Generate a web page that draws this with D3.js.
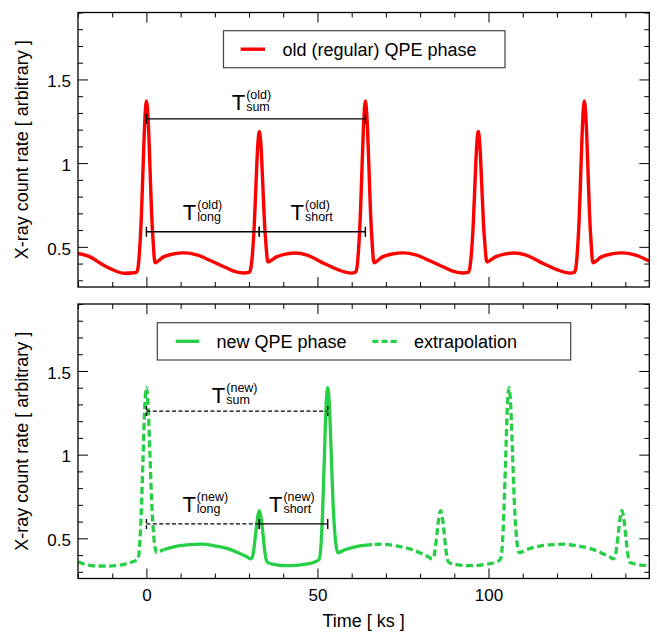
<!DOCTYPE html>
<html>
<head>
<meta charset="utf-8">
<script src="https://cdn.jsdelivr.net/npm/d3@7"></script>
<style>
  body { margin: 0; background: #fff; }
  svg { display: block; }
  text { font-family: "Liberation Sans", Arial, Helvetica, sans-serif; fill: #000; }
</style>
</head>
<body>
<svg id="chart" width="657" height="633"></svg>
<script>
// ---- axis ranges and ticks ----
const timeDomain = [-20, 147];
const rateDomain = [0.26, 1.9];
const xMajorTicks = [0, 50, 100];
const xTickLabels = ["0", "50", "100"];
const xMinorTicks = [-20, -10, 10, 20, 30, 40, 60, 70, 80, 90, 110, 120, 130, 140];
const yMajorTicks = [0.5, 1, 1.5];
const yTickLabels = ["0.5", "1", "1.5"];
const yMinorTicks = [0.3, 0.4, 0.6, 0.7, 0.8, 0.9, 1.1, 1.2, 1.3, 1.4, 1.6, 1.7, 1.8, 1.9];

// ---- old (regular) QPE phase: [time ks, rate] ----
const oldRate = [
  [-20,0.46],[-16.5,0.44],[-12.5,0.39],[-9.5,0.36],[-6.5,0.342],[-3.5,0.345],
  [-3,0.347],[-2.5,0.37],[-2,0.48],[-1.5,0.67],[-1,0.96],[-0.5,1.24],[0,1.372],[0.5,1.26],[1,1.0],[1.5,0.71],[2,0.52],[2.5,0.405],
  [5,0.44],[8,0.458],[11,0.464],[15,0.45],[19,0.415],[23,0.378],[26,0.352],[28.5,0.344],[30,0.347],
  [30.5,0.37],[31,0.46],[31.5,0.62],[32,0.86],[32.5,1.09],[33,1.189],[33.5,1.10],[34,0.88],[34.5,0.65],[35,0.50],[35.5,0.41],
  [38,0.44],[41,0.458],[43.5,0.463],[47,0.45],[51,0.41],[55,0.372],[58,0.35],[60,0.343],[61,0.347],
  [61.5,0.37],[62,0.48],[62.5,0.67],[63,0.96],[63.5,1.24],[64,1.372],[64.5,1.26],[65,1.0],[65.5,0.71],[66,0.52],[66.5,0.405],
  [69,0.44],[72,0.458],[75,0.464],[79,0.45],[83,0.415],[87,0.378],[90,0.352],[92.5,0.344],[94,0.347],
  [94.5,0.37],[95,0.46],[95.5,0.62],[96,0.86],[96.5,1.09],[97,1.189],[97.5,1.10],[98,0.88],[98.5,0.65],[99,0.50],[99.5,0.41],
  [102,0.44],[105,0.458],[107.5,0.463],[111,0.45],[115,0.41],[119,0.372],[122,0.35],[124,0.343],[125,0.347],
  [125.5,0.37],[126,0.48],[126.5,0.67],[127,0.96],[127.5,1.24],[128,1.372],[128.5,1.26],[129,1.0],[129.5,0.71],[130,0.52],[130.5,0.405],
  [133,0.44],[136,0.458],[139,0.464],[143,0.45],[147,0.415]
];

// ---- new QPE phase with its extrapolation: [time ks, rate] ----
const newRate = [
  [-20,0.36],[-17.5,0.342],[-14.5,0.335],[-12,0.334],[-9,0.337],[-6,0.347],[-4,0.36],[-2.5,0.375],
  [-2,0.45],[-1.5,0.66],[-1,0.97],[-0.5,1.28],[0,1.40],[0.5,1.29],[1,1.02],[1.5,0.74],[2,0.55],[2.5,0.45],[3,0.414],
  [5,0.432],[9,0.454],[13,0.463],[16,0.465],[20,0.455],[24,0.437],[27,0.413],[29.5,0.388],[30.5,0.377],
  [31,0.39],[31.5,0.45],[32,0.54],[32.5,0.625],[33,0.666],[33.5,0.625],[34,0.54],[34.5,0.44],[35,0.375],[35.5,0.355],
  [38,0.342],[41,0.337],[44,0.339],[47,0.347],[49,0.357],[50.5,0.375],
  [51,0.45],[51.5,0.66],[52,0.97],[52.5,1.28],[53,1.40],[53.5,1.29],[54,1.02],[54.5,0.74],[55,0.55],[55.5,0.45],[56,0.414],
  [58,0.432],[62,0.454],[66,0.463],[69,0.465],[73,0.455],[77,0.437],[80,0.413],[82.5,0.388],[83.5,0.377],
  [84,0.39],[84.5,0.45],[85,0.54],[85.5,0.625],[86,0.666],[86.5,0.625],[87,0.54],[87.5,0.44],[88,0.375],[88.5,0.355],
  [91,0.342],[94,0.337],[97,0.339],[100,0.347],[102,0.357],[103.5,0.375],
  [104,0.45],[104.5,0.66],[105,0.97],[105.5,1.28],[106,1.40],[106.5,1.29],[107,1.02],[107.5,0.74],[108,0.55],[108.5,0.45],[109,0.414],
  [111,0.432],[115,0.454],[119,0.463],[122,0.465],[126,0.455],[130,0.437],[133,0.413],[135.5,0.388],[136.5,0.377],
  [137,0.39],[137.5,0.45],[138,0.54],[138.5,0.625],[139,0.666],[139.5,0.625],[140,0.54],[140.5,0.44],[141,0.375],[141.5,0.355],
  [144,0.342],[147,0.337]
];
// time span actually observed in the new phase (the rest is extrapolated)
const newObserved = [5, 66];

// ---- interval annotations ----
const oldIntervals = [
  { from: 0,  to: 64, level: 1.265, labelAt: 30.7, labelLevel: 1.318, sub: "sum",   sup: "(old)", dashed: false },
  { from: 0,  to: 33, level: 0.59,  labelAt: 16.4, labelLevel: 0.66,  sub: "long",  sup: "(old)", dashed: false },
  { from: 33, to: 64, level: 0.59,  labelAt: 48.3, labelLevel: 0.66,  sub: "short", sup: "(old)", dashed: false }
];
const newIntervals = [
  { from: 0,  to: 53, level: 1.26,  labelAt: 25.8, labelLevel: 1.31,  sub: "sum",   sup: "(new)", dashed: true },
  { from: 0,  to: 33, level: 0.586, labelAt: 17.2, labelLevel: 0.66,  sub: "long",  sup: "(new)", dashed: true },
  { from: 33, to: 53, level: 0.586, labelAt: 42.5, labelLevel: 0.66,  sub: "short", sup: "(new)", dashed: false }
];

const RED = "#ff0000";
const GREEN = "#26cf46";

const svg = d3.select("#chart");
const plotLeft = 78, plotRight = 649.3, plotH = 274.5;
const panelTops = [12.5, 304];

const x = d3.scaleLinear().domain(timeDomain).range([plotLeft, plotRight]);

function makeY(top) {
  return d3.scaleLinear().domain(rateDomain).range([top + plotH, top]);
}

function styleAxis(g) {
  g.select(".domain").remove();
  g.selectAll(".tick line").attr("stroke", "#000").attr("stroke-width", 1);
  g.selectAll(".tick text").attr("font-size", 17).attr("fill", "#000")
    .style("font-family", '"Liberation Sans", Arial, Helvetica, sans-serif');
}

function drawFrame(top, y, xLabels) {
  const bottom = top + plotH;
  const g = svg.append("g");
  // bottom & top time ticks, pointing inward
  g.append("g").attr("transform", `translate(0,${bottom})`)
    .call(d3.axisBottom(x).tickValues(xMajorTicks).tickSize(-10).tickPadding(10)
      .tickFormat((d, i) => xLabels ? xTickLabels[i] : ""))
    .call(styleAxis);
  g.append("g").attr("transform", `translate(0,${bottom})`)
    .call(d3.axisBottom(x).tickValues(xMinorTicks).tickSize(-5).tickFormat(""))
    .call(styleAxis);
  g.append("g").attr("transform", `translate(0,${top})`)
    .call(d3.axisTop(x).tickValues(xMajorTicks).tickSize(-10).tickFormat(""))
    .call(styleAxis);
  g.append("g").attr("transform", `translate(0,${top})`)
    .call(d3.axisTop(x).tickValues(xMinorTicks).tickSize(-5).tickFormat(""))
    .call(styleAxis);
  // left & right rate ticks
  g.append("g").attr("transform", `translate(${plotLeft},0)`)
    .call(d3.axisLeft(y).tickValues(yMajorTicks).tickSize(-10).tickPadding(7)
      .tickFormat((d, i) => yTickLabels[i]))
    .call(styleAxis)
    .call(a => a.selectAll(".tick text").attr("dy", "0.43em"));
  g.append("g").attr("transform", `translate(${plotLeft},0)`)
    .call(d3.axisLeft(y).tickValues(yMinorTicks).tickSize(-5).tickFormat(""))
    .call(styleAxis);
  g.append("g").attr("transform", `translate(${plotRight},0)`)
    .call(d3.axisRight(y).tickValues(yMajorTicks).tickSize(-10).tickFormat(""))
    .call(styleAxis);
  g.append("g").attr("transform", `translate(${plotRight},0)`)
    .call(d3.axisRight(y).tickValues(yMinorTicks).tickSize(-5).tickFormat(""))
    .call(styleAxis);

  g.append("rect")
    .attr("x", plotLeft).attr("y", top)
    .attr("width", plotRight - plotLeft).attr("height", plotH)
    .attr("fill", "none").attr("stroke", "#000").attr("stroke-width", 1.3);

  // rotated rate title
  svg.append("text")
    .attr("transform", `translate(28,${top + plotH / 2}) rotate(-90)`)
    .attr("text-anchor", "middle").attr("font-size", 18)
    .text("X-ray count rate [ arbitrary ]");
}

function addClip(id, rects) {
  const cp = svg.append("defs").append("clipPath").attr("id", id);
  rects.forEach(r => cp.append("rect").attr("x", r[0]).attr("y", r[1]).attr("width", r[2]).attr("height", r[3]));
  return `url(#${id})`;
}

function drawIntervals(list, y) {
  const g = svg.append("g");
  list.forEach(iv => {
    const yy = y(iv.level);
    const dash = iv.dashed ? "4,2.4" : null;
    g.append("line")
      .attr("x1", x(iv.from)).attr("x2", x(iv.to)).attr("y1", yy).attr("y2", yy)
      .attr("stroke", "#000").attr("stroke-width", 1.3).attr("stroke-dasharray", dash);
    [iv.from, iv.to].forEach(t => {
      g.append("line")
        .attr("x1", x(t)).attr("x2", x(t)).attr("y1", yy - 5).attr("y2", yy + 5)
        .attr("stroke", "#000").attr("stroke-width", 1.4).attr("stroke-dasharray", dash);
    });
    // T with stacked superscript / subscript
    const base = y(iv.labelLevel);
    const lt = g.append("text").attr("font-size", 22).attr("y", base).text("T");
    const sp = g.append("text").attr("font-size", 12.5).attr("y", base - 11).text(iv.sup);
    const sb = g.append("text").attr("font-size", 12.5).attr("y", base + 1).text(iv.sub);
    const wT = lt.node().getComputedTextLength();
    const wS = Math.max(sp.node().getComputedTextLength(), sb.node().getComputedTextLength());
    const x0 = x(iv.labelAt) - (wT + 1 + wS) / 2;
    lt.attr("x", x0);
    sp.attr("x", x0 + wT + 1);
    sb.attr("x", x0 + wT + 1);
  });
}

const line = (y) => d3.line().x(d => x(d[0])).y(d => y(d[1])).curve(d3.curveMonotoneX);

// ---------- upper panel: old phase ----------
{
  const top = panelTops[0];
  const y = makeY(top);
  const clip = addClip("clipOld", [[plotLeft, top, plotRight - plotLeft, plotH]]);
  svg.append("path").datum(oldRate)
    .attr("d", line(y)).attr("fill", "none")
    .attr("stroke", RED).attr("stroke-width", 3.4).attr("stroke-linejoin", "round")
    .attr("clip-path", clip);
  drawIntervals(oldIntervals, y);
  drawFrame(top, y, false);

  // legend
  const lg = svg.append("g");
  lg.append("rect").attr("x", 223.5).attr("y", 30.7).attr("width", 281.5).attr("height", 37)
    .attr("fill", "#fff").attr("stroke", "#444").attr("stroke-width", 1.2);
  lg.append("line").attr("x1", 240.7).attr("x2", 265).attr("y1", 49.2).attr("y2", 49.2)
    .attr("stroke", RED).attr("stroke-width", 3.4);
  lg.append("text").attr("x", 282.5).attr("y", 55.5).attr("font-size", 18)
    .text("old (regular) QPE phase");
}

// ---------- lower panel: new phase ----------
{
  const top = panelTops[1];
  const y = makeY(top);
  const xa = x(newObserved[0]), xb = x(newObserved[1]);
  const clipExtra = addClip("clipExtra", [
    [plotLeft, top, xa - plotLeft, plotH],
    [xb, top, plotRight - xb, plotH]
  ]);
  const clipObs = addClip("clipObs", [[xa, top, xb - xa, plotH]]);
  svg.append("path").datum(newRate)
    .attr("d", line(y)).attr("fill", "none")
    .attr("stroke", GREEN).attr("stroke-width", 3.3).attr("stroke-dasharray", "7,3.6")
    .attr("clip-path", clipExtra);
  svg.append("path").datum(newRate)
    .attr("d", line(y)).attr("fill", "none")
    .attr("stroke", GREEN).attr("stroke-width", 3.3).attr("stroke-linejoin", "round")
    .attr("clip-path", clipObs);
  drawIntervals(newIntervals, y);
  drawFrame(top, y, true);

  // legend
  const lg = svg.append("g");
  lg.append("rect").attr("x", 157.3).attr("y", 322.7).attr("width", 413.4).attr("height", 37.3)
    .attr("fill", "#fff").attr("stroke", "#444").attr("stroke-width", 1.2);
  lg.append("line").attr("x1", 175.7).attr("x2", 199.3).attr("y1", 341.3).attr("y2", 341.3)
    .attr("stroke", GREEN).attr("stroke-width", 3.3);
  lg.append("text").attr("x", 216.5).attr("y", 347.6).attr("font-size", 18).text("new QPE phase");
  lg.append("line").attr("x1", 372.3).attr("x2", 396.7).attr("y1", 341.3).attr("y2", 341.3)
    .attr("stroke", GREEN).attr("stroke-width", 3.3).attr("stroke-dasharray", "6,3.2");
  lg.append("text").attr("x", 414).attr("y", 347.6).attr("font-size", 18).text("extrapolation");

  // time title
  svg.append("text").attr("x", (plotLeft + plotRight) / 2).attr("y", 627)
    .attr("text-anchor", "middle").attr("font-size", 18).text("Time [ ks ]");
}
</script>
</body>
</html>
